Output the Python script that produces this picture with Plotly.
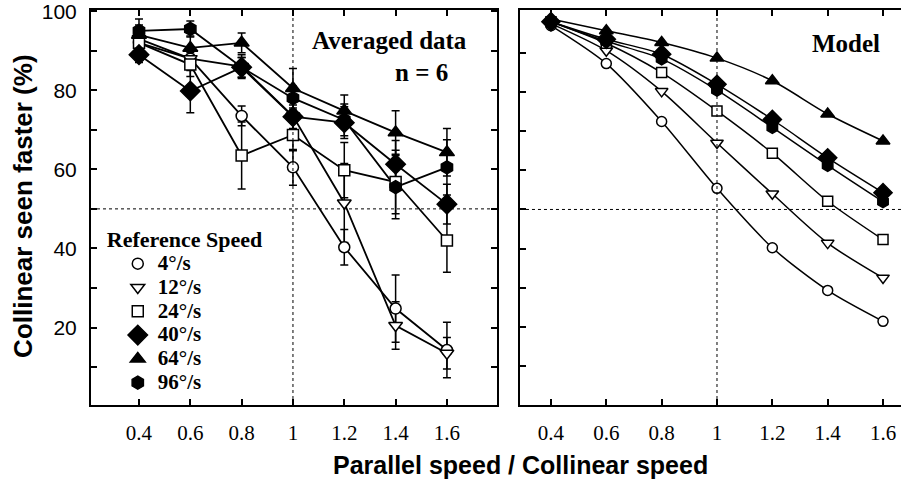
import plotly.graph_objects as go

# ---------------- data ----------------
ratio = [0.4, 0.6, 0.8, 1.0, 1.2, 1.4, 1.6]
ratio_labels = ["0.4", "0.6", "0.8", "1", "1.2", "1.4", "1.6"]
speeds = ["4°/s", "12°/s", "24°/s", "40°/s", "64°/s", "96°/s"]

# Averaged data (left panel), % collinear seen faster
avg_4 = [92, 88, 73.5, 60.5, 40.3, 24.8, 14.3]
avg_12 = [93, 88, 86, 73.5, 51.5, 20.5, 13.5]
avg_24 = [92, 86.5, 63.5, 68.7, 59.8, 56.8, 42]
avg_40 = [89, 79.8, 85.8, 73.3, 71.8, 61.3, 51.2]
avg_64 = [94, 90.7, 92, 80.5, 74.8, 69.3, 64.3]
avg_96 = [95, 95.5, 85.8, 78, 72.5, 55.5, 60.5]

# error bars (left panel)
err_4 = [2, 3, 2.5, 4.5, 4.5, 8.5, 7]
err_12 = [2, 2.5, 3, 4, 10, 6, 4]
err_24 = [2.5, 3, 8.5, 4, 7, 8, 8]
err_40 = [2, 5.5, 2.5, 3, 4, 6, 5]
err_64 = [2.5, 3, 2.5, 5, 4, 5.5, 6]
err_96 = [3, 2, 2.5, 3, 4, 8, 7]

# Model (right panel)
mod_4 = [97, 87.3, 72.5, 55.4, 40.2, 29.3, 21.4]
mod_12 = [97.5, 90.6, 80.2, 67, 54, 41.4, 32.5]
mod_24 = [98, 92.5, 85, 75.2, 64.4, 52.1, 42.3]
mod_40 = [98, 93.5, 89.7, 82, 73, 63.2, 54.3]
mod_64 = [98.7, 95.7, 92.7, 88.7, 82.9, 74.4, 67.5]
mod_96 = [98, 93, 88.5, 80.5, 71, 61.3, 52]

y_ticks = [10, 20, 30, 40, 50, 60, 70, 80, 90, 100]
y_ticktext = ["", "20", "", "40", "", "60", "", "80", "", "100"]

avg_all = [avg_4, avg_12, avg_24, avg_40, avg_64, avg_96]
err_all = [err_4, err_12, err_24, err_40, err_64, err_96]
mod_all = [mod_4, mod_12, mod_24, mod_40, mod_64, mod_96]

# ---------------- styles ----------------
sym = ["circle", "triangle-down", "square", "diamond", "triangle-up", "hexagon"]
fill = ["white", "white", "white", "black", "black", "black"]
msize = [11, 12, 11, 15, 13, 13]

fig = go.Figure()

# left panel lines with error bars
for i in range(6):
    fig.add_trace(go.Scatter(
        x=ratio, y=avg_all[i], mode="lines", showlegend=False,
        line=dict(color="black", width=1.8),
        error_y=dict(type="data", array=err_all[i], color="black", thickness=1.5, width=4),
        xaxis="x", yaxis="y", hoverinfo="skip"))

# right panel model curves
for i in range(6):
    fig.add_trace(go.Scatter(
        x=ratio, y=mod_all[i], mode="lines+markers", showlegend=False,
        line=dict(color="black", width=1.5, shape="spline", smoothing=0.8),
        marker=dict(symbol=sym[i], color=fill[i], size=msize[i] - 1,
                    line=dict(color="black", width=1.5)),
        xaxis="x2", yaxis="y2"))

# left panel markers (carry the legend)
for i in range(6):
    fig.add_trace(go.Scatter(
        x=ratio, y=avg_all[i], mode="markers",
        name='<span style="font-size:21px">' + speeds[i] + "</span>",
        marker=dict(symbol=sym[i], color=fill[i], size=msize[i],
                    line=dict(color="black", width=1.5)),
        xaxis="x", yaxis="y"))

axis_common = dict(showline=True, linecolor="black", linewidth=2, ticks="inside",
                   ticklen=6, tickwidth=1.5, tickcolor="black", showgrid=False,
                   zeroline=False, ticklabeloverflow="allow", automargin=False)

fig.update_layout(
    width=901, height=480,
    margin=dict(l=91, r=0, t=10, b=75, autoexpand=False),
    paper_bgcolor="white", plot_bgcolor="white",
    xaxis=dict(domain=[0, 0.5012], range=[0.213, 1.795], tickvals=ratio,
               ticktext=ratio_labels, mirror="ticks", ticklabelstandoff=8,
               tickfont=dict(family="Liberation Serif", size=21, color="black"),
               **axis_common),
    yaxis=dict(domain=[0, 1], range=[0.4, 100.3], tickvals=y_ticks, ticktext=y_ticktext,
               mirror="ticks", ticklabelstandoff=8,
               tickfont=dict(family="Liberation Sans", size=21, color="black"),
               **axis_common),
    xaxis2=dict(domain=[0.5296, 1.0], range=[0.288, 1.665], tickvals=ratio,
                ticktext=ratio_labels, mirror="ticks", anchor="y2", ticklabelstandoff=8,
                tickfont=dict(family="Liberation Serif", size=21, color="black"),
                **axis_common),
    yaxis2=dict(domain=[0, 1], range=[0, 101], tickvals=y_ticks[:-1], anchor="x2",
                showticklabels=False, mirror=False, **axis_common),
    legend=dict(x=0.017, y=0.473, xanchor="left", yanchor="top",
                bgcolor="rgba(0,0,0,0)", indentation=13, tracegroupgap=0,
                font=dict(family="Liberation Serif", size=16, color="black", weight="bold"),
                title=dict(text="Reference Speed",
                           font=dict(family="Liberation Serif", size=22, color="black",
                                     weight="bold"))),
    showlegend=True,
)

# dotted reference lines
for xr, yr in (("x", "y"), ("x2", "y2")):
    fig.add_shape(type="line", xref=xr, yref=yr + " domain", x0=1, x1=1, y0=0, y1=1,
                  line=dict(color="black", width=1, dash="dot"))
    fig.add_shape(type="line", xref=xr + " domain", yref=yr, x0=0, x1=1, y0=50, y1=50,
                  line=dict(color="black", width=1, dash="dot"))

serif_b = dict(family="Liberation Serif", size=25, color="black", weight="bold")
sans_b = dict(family="Liberation Sans", color="black", weight="bold")
fig.add_annotation(text="Averaged data", xref="paper", yref="paper", x=0.369, y=0.924,
                   showarrow=False, font=serif_b, xanchor="center", yanchor="middle")
fig.add_annotation(text="n = 6", xref="paper", yref="paper", x=0.4086, y=0.843,
                   showarrow=False, font=serif_b, xanchor="center", yanchor="middle")
fig.add_annotation(text="Model", xref="paper", yref="paper", x=0.932, y=0.916,
                   showarrow=False, font=serif_b, xanchor="center", yanchor="middle")
fig.add_annotation(text="Parallel speed / Collinear speed", xref="paper", yref="paper",
                   x=0.53, y=-0.152, showarrow=False, font=dict(size=25, **sans_b),
                   xanchor="center", yanchor="middle")
fig.add_annotation(text="Collinear seen faster (%)", xref="paper", yref="paper",
                   x=-0.084, y=0.504, showarrow=False, textangle=-90,
                   font=dict(size=26, **sans_b), xanchor="center", yanchor="middle")

# remove the browser's default 8px body margin so the 901x480 figure fills the window
fig.write_html("out.html", config={"displayModeBar": False},
               post_script="document.body.style.margin='0px';")
